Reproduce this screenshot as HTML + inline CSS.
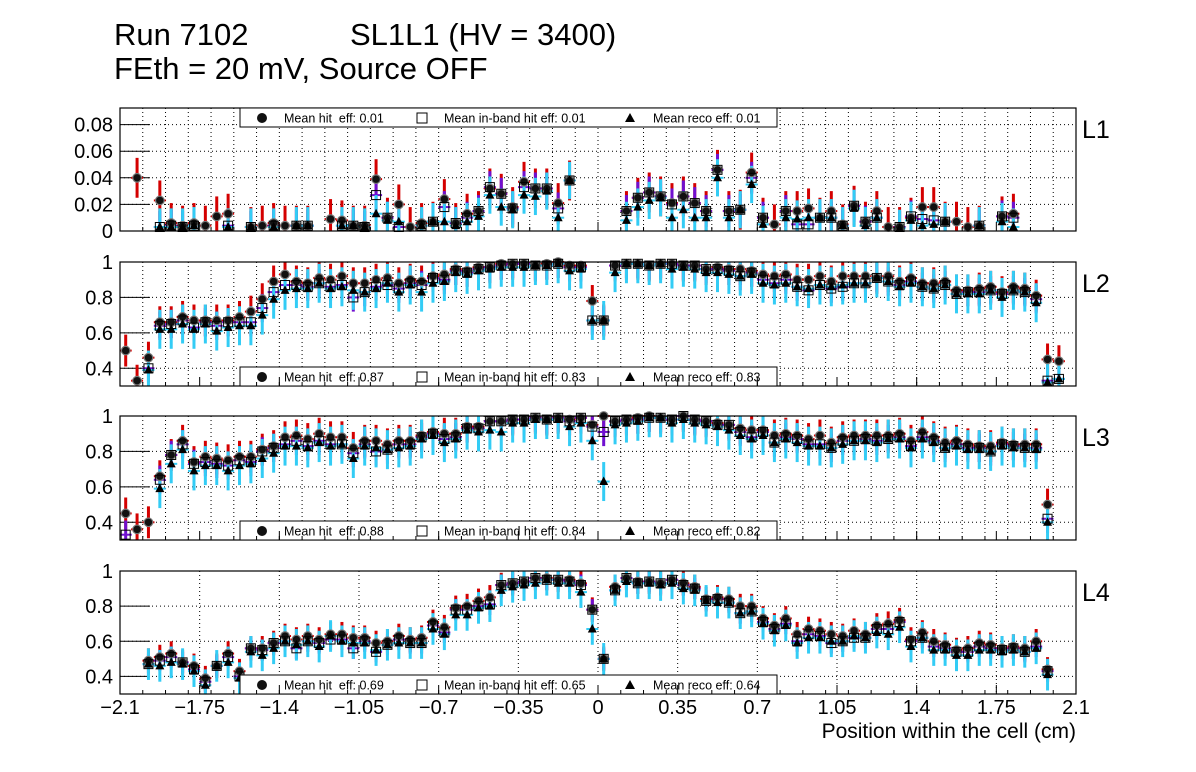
<!DOCTYPE html>
<html><head><meta charset="utf-8">
<style>
body{margin:0;background:#fff;}
svg{display:block;font-family:"Liberation Sans",sans-serif;}
</style></head>
<body>
<svg id="chart" width="1196" height="772" viewBox="0 0 1196 772">
<text x="114" y="45" font-size="31">Run 7102</text>
<text x="350" y="45" font-size="31">SL1L1 (HV = 3400)</text>
<text x="114" y="79" font-size="31">FEth = 20 mV, Source OFF</text>
<text x="1076" y="738" font-size="21" text-anchor="end">Position within the cell (cm)</text>
<g id="panels"></g>
</svg>
<script>
const xTicks=[-2.1,-1.75,-1.4,-1.05,-0.7,-0.35,0,0.35,0.7,1.05,1.4,1.75,2.1];
const xTickLabels=["\u22122.1","\u22121.75","\u22121.4","\u22121.05","\u22120.7","\u22120.35","0","0.35","0.7","1.05","1.4","1.75","2.1"];
const binStart=-2.075, binWidth=0.05;
const panelNames=["L1","L2","L3","L4"];
const meanHit=["0.01","0.87","0.88","0.69"];
const meanBand=["0.01","0.83","0.84","0.65"];
const meanReco=["0.01","0.83","0.82","0.64"];
const N=null;
// L1
const l1Hit=[N,.040,N,.023,.006,.004,.006,.004,.011,.013,N,.003,.004,.006,.004,.004,.004,N,.009,.008,.004,.004,.039,.010,.020,.003,.006,.007,.024,.006,.013,.015,.032,.028,.018,.037,.032,.032,.021,.038,N,N,N,N,.015,.025,.029,.026,.021,.026,.021,.015,.046,.015,.016,.044,.010,.005,.015,.015,.017,.010,.015,.005,.019,.007,.015,.003,.003,.010,.018,.018,.007,.007,.003,.004,N,.011,.013,N,N,N,N,N];
const l1Band=[N,N,N,.003,.004,.003,.004,N,N,.004,N,.003,N,.004,N,.004,.004,N,N,.004,.004,.003,.027,.010,.003,N,.004,.007,.018,.006,.010,.015,.033,.028,.017,.033,.032,.032,.017,.038,N,N,N,N,.015,.025,.029,.026,.020,.026,.021,.015,.046,.015,.016,.040,.010,N,.015,.005,.005,.010,.010,.004,.019,.007,.010,N,.003,.011,.009,.008,.007,N,N,.004,N,.011,.010,N,N,N,N,N];
const l1Reco=[N,N,N,.003,.003,.003,.004,N,N,.003,N,.003,N,.003,N,.004,.004,N,N,.004,.004,.003,.013,.008,.007,N,.004,.007,.007,.004,.007,.011,.027,.018,.016,.027,.026,.030,.010,.038,N,N,N,N,.008,.018,.023,.025,.010,.016,.010,.010,.040,.010,.016,.035,.005,N,.010,.009,.010,.010,.010,.004,.017,.004,.010,N,.002,.008,.004,.005,.007,N,N,.004,N,.007,.003,N,N,N,N,N];
// L2
const l2Hit=[.50,.33,.46,.66,.66,.69,.67,.67,.67,.67,.69,.72,.79,.89,.93,.89,.88,.91,.90,.92,.88,.88,.90,.91,.88,.90,.89,.92,.93,.96,.95,.97,.97,.99,.99,.99,.98,.99,1.0,.98,.98,.78,.67,.98,.99,.99,.98,.99,.99,.98,.98,.96,.97,.96,.96,.95,.93,.92,.93,.90,.90,.92,.89,.92,.92,.92,.91,.92,.89,.91,.88,.88,.89,.84,.84,.85,.86,.83,.86,.85,.81,.45,.44,N];
const l2Band=[N,N,.40,.64,.65,.67,.63,.66,.64,.66,.66,.66,.74,.83,.87,.87,.86,.88,.86,.87,.80,.83,.86,.87,.85,.88,.87,.91,.90,.95,.94,.96,.97,.98,.99,.99,.98,.98,.99,.97,.97,.67,.67,.98,.99,.99,.98,.99,.99,.98,.98,.96,.96,.95,.92,.94,.90,.88,.90,.86,.84,.87,.85,.86,.88,.88,.91,.89,.87,.89,.86,.85,.87,.82,.83,.83,.84,.82,.84,.83,.79,.33,.34,N];
const l2Reco=[N,N,.39,.62,.62,.65,.62,.65,.61,.63,.64,.64,.70,.79,.84,.85,.85,.88,.85,.86,.84,.83,.85,.88,.83,.87,.83,.88,.89,.94,.93,.95,.96,.97,.97,.97,.98,.98,.99,.95,.96,.67,.67,.94,.99,.99,.98,.99,.96,.97,.96,.94,.94,.93,.92,.93,.88,.87,.88,.86,.85,.87,.86,.87,.88,.88,.91,.89,.86,.88,.86,.85,.87,.82,.82,.82,.84,.80,.84,.83,.77,.32,.34,N];
// L3
const l3Hit=[.45,.36,.40,.66,.78,.86,.74,.77,.76,.75,.77,.77,.81,.83,.88,.89,.87,.90,.88,.88,.82,.86,.86,.84,.86,.86,.89,.91,.90,.90,.94,.94,.97,.97,.98,.98,.99,.98,.99,.98,.99,.95,1.0,.97,.98,.99,1.0,.99,.98,1.0,.98,.97,.96,.95,.93,.92,.92,.89,.90,.89,.87,.89,.85,.88,.89,.89,.89,.89,.90,.86,.91,.88,.85,.86,.84,.83,.83,.85,.84,.84,.84,.50,N,N];
const l3Band=[.33,N,N,.64,.78,.84,.73,.74,.73,.72,.75,.74,.80,.82,.84,.86,.83,.86,.84,.84,.79,.84,.80,.81,.84,.84,.88,.90,.87,.88,.93,.93,.97,.97,.98,.98,.99,.98,.99,.97,.99,.94,.91,.97,.98,.98,.99,.99,.98,1.0,.98,.97,.95,.95,.91,.88,.91,.85,.88,.87,.84,.84,.82,.86,.86,.87,.86,.87,.88,.83,.88,.86,.82,.84,.82,.82,.80,.84,.83,.82,.82,.42,N,N];
const l3Reco=[N,N,N,.59,.73,.81,.69,.72,.72,.69,.72,.73,.76,.79,.83,.83,.82,.85,.83,.84,.76,.83,.82,.81,.82,.83,.87,.89,.85,.87,.92,.91,.92,.91,.96,.96,.98,.98,.98,.94,.96,.86,.63,.95,.96,.97,.99,.99,.96,.98,.96,.95,.94,.92,.89,.87,.89,.85,.87,.85,.83,.83,.82,.84,.86,.86,.85,.87,.87,.82,.87,.85,.82,.83,.81,.81,.80,.83,.82,.82,.81,.40,N,N];
// L4
const l4Hit=[N,N,.49,.51,.53,.48,.46,.39,.46,.53,.43,.56,.56,.59,.63,.61,.63,.61,.64,.64,.62,.62,.59,.60,.63,.61,.62,.71,.68,.79,.80,.83,.85,.92,.93,.94,.96,.96,.95,.95,.93,.78,.50,.91,.96,.94,.94,.93,.95,.93,.91,.84,.85,.84,.80,.80,.73,.69,.73,.64,.67,.66,.64,.63,.66,.64,.69,.70,.72,.61,.65,.60,.58,.55,.56,.59,.58,.56,.57,.56,.60,.44,N,N];
const l4Band=[N,N,.47,.49,.51,.48,.44,.37,.46,.51,.40,.56,.55,.59,.60,.56,.60,.59,.61,.61,.56,.60,.54,.58,.61,.59,.59,.69,.65,.78,.78,.80,.81,.92,.93,.94,.96,.95,.95,.94,.92,.78,.50,.89,.96,.93,.94,.93,.95,.92,.90,.83,.84,.82,.76,.77,.71,.67,.70,.60,.64,.63,.59,.60,.62,.62,.67,.67,.71,.60,.62,.57,.56,.54,.54,.57,.56,.55,.56,.54,.57,.43,N,N];
const l4Reco=[N,N,.47,.46,.48,.47,.43,.35,.46,.48,.39,.54,.52,.56,.60,.58,.60,.57,.63,.60,.59,.59,.55,.58,.59,.59,.59,.67,.64,.75,.75,.79,.80,.89,.91,.92,.93,.95,.93,.93,.88,.67,.50,.89,.94,.93,.93,.92,.93,.90,.89,.83,.82,.82,.76,.77,.70,.66,.69,.59,.62,.62,.60,.60,.63,.62,.65,.64,.68,.57,.62,.55,.55,.52,.52,.55,.55,.54,.55,.54,.56,.41,N,N];
const hitSeries=[l1Hit,l2Hit,l3Hit,l4Hit];
const bandSeries=[l1Band,l2Band,l3Band,l4Band];
const recoSeries=[l1Reco,l2Reco,l3Reco,l4Reco];
const errHit=[0.015,0.09,0.09,0.07];
const errBand=[0.012,0.08,0.08,0.06];
const errReco=[0.014,0.11,0.11,0.09];
const yRanges=[[0,0.0925],[0.3,1.0],[0.3,1.0],[0.3,1.0]];
const yTicksA=[[0,0.02,0.04,0.06,0.08],[0.4,0.6,0.8,1],[0.4,0.6,0.8,1],[0.4,0.6,0.8,1]];
const yTickLabelsA=[["0","0.02","0.04","0.06","0.08"],["0.4","0.6","0.8","1"],["0.4","0.6","0.8","1"],["0.4","0.6","0.8","1"]];

const NS="http://www.w3.org/2000/svg";
const X0=120,X1=1076;
const frames=[[108,231],[262,386],[416,540],[571,694]];
function xs(v){return X0+(v+2.1)/4.2*(X1-X0);}
function mk(tag,attrs,parent){const e=document.createElementNS(NS,tag);for(const k in attrs)e.setAttribute(k,attrs[k]);parent.appendChild(e);return e;}
const root=document.getElementById('panels');
for(let p=0;p<4;p++){
  const [top,bot]=frames[p];const [ymin,ymax]=yRanges[p];
  const ys=v=>bot-(v-ymin)/(ymax-ymin)*(bot-top);
  const cl=v=>Math.max(top,Math.min(bot,v));
  const g=mk('g',{},root);
  
  
  if(p<3){for(let k=1;k<42;k++){const x=xs(-2.1+k*0.1);const l=mk('line',{x1:x,x2:x,y1:top,y2:bot,stroke:'#000','stroke-width':1,'stroke-dasharray':'1,3'},g);}}
  else{for(let k=1;k<12;k++){const x=xs(xTicks[k]);const l=mk('line',{x1:x,x2:x,y1:top,y2:bot,stroke:'#000','stroke-width':1,'stroke-dasharray':'1,3'},g);}}
  yTicksA[p].forEach((t,i)=>{const y=ys(t);
    if(y>top+1&&y<bot-1){const l=mk('line',{x1:X0,x2:X1,y1:y,y2:y,stroke:'#000','stroke-width':1,'stroke-dasharray':'1,3'},g);}
    const tk=mk('line',{x1:X0,x2:X0+30,y1:y,y2:y,stroke:'#000','stroke-width':1},g);
    const tx=mk('text',{x:113,y:y+7,'font-size':20,'text-anchor':'end'},g);tx.textContent=yTickLabelsA[p][i];
    
  });
  const series=[[hitSeries[p],errHit[p],'#d40000',3],[bandSeries[p],errBand[p],'#7010d0',3],[recoSeries[p],errReco[p],'#33ccf5',3]];
  series.forEach(([arr,e,col,w])=>{arr.forEach((v,i)=>{if(v===null)return;const x=xs(binStart+i*binWidth);
    const b=mk('line',{x1:x,x2:x,y1:cl(ys(v+e)),y2:cl(ys(v-e)),stroke:col,'stroke-width':w},g);
    
    const h=mk('line',{x1:x-6,x2:x+6,y1:ys(v),y2:ys(v),stroke:col,'stroke-width':2},g);
    });});
  hitSeries[p].forEach((v,i)=>{if(v===null)return;const c=mk('circle',{cx:xs(binStart+i*binWidth),cy:ys(v),r:4.3,fill:'#111',stroke:'#777','stroke-width':1.2},g);});
  bandSeries[p].forEach((v,i)=>{if(v===null)return;const x=xs(binStart+i*binWidth),y=ys(v);const r=mk('rect',{x:x-4.5,y:y-4.5,width:9,height:9,fill:'none',stroke:'#000','stroke-width':1},g);});
  recoSeries[p].forEach((v,i)=>{if(v===null)return;const x=xs(binStart+i*binWidth),y=ys(v);const t=mk('polygon',{points:`${x-4.5},${y+3.5} ${x+4.5},${y+3.5} ${x},${y-5}`,fill:'#000'},g);});
  const fr=mk('rect',{x:X0,y:top,width:X1-X0,height:bot-top,fill:'none',stroke:'#000','stroke-width':1.2},g);
  
  const lab=mk('text',{x:1082,y:top+30,'font-size':25},g);lab.textContent=panelNames[p];
  
  const ly=p===0?top:bot-19;
  const lg=mk('g',{},g);
  mk('rect',{x:240,y:ly,width:537,height:19,fill:'#fff',stroke:'#000','stroke-width':1},lg);
  const cy=ly+10;
  const m1=mk('circle',{cx:262,cy:cy,r:5,fill:'#111'},lg);
  const t1=mk('text',{x:284,y:cy+4.5,'font-size':12.5},lg);t1.textContent='Mean hit\u00a0 eff: '+meanHit[p];
  const m2=mk('rect',{x:417,y:cy-5,width:10,height:10,fill:'none',stroke:'#000'},lg);
  const t2=mk('text',{x:444,y:cy+4.5,'font-size':12.5},lg);t2.textContent='Mean in-band hit eff: '+meanBand[p];
  const m3=mk('polygon',{points:`${625},${cy+4} ${635},${cy+4} ${630},${cy-5}`,fill:'#000'},lg);
  const t3=mk('text',{x:653,y:cy+4.5,'font-size':12.5},lg);t3.textContent='Mean reco eff: '+meanReco[p];
  for(let k=0;k<=42;k++){const x=xs(-2.1+k*0.1);
    const tk=mk('line',{x1:x,x2:x,y1:bot,y2:bot-4,stroke:'#000'},g);}
  xTicks.forEach(t=>{const x=xs(t);const tk=mk('line',{x1:x,x2:x,y1:bot,y2:bot-9,stroke:'#000'},g);});
  if(p===3){xTicks.forEach((t,i)=>{const tx=mk('text',{x:xs(t),y:714,'font-size':20,'text-anchor':'middle'},g);tx.textContent=xTickLabels[i];});}
}
</script>
</body></html>
